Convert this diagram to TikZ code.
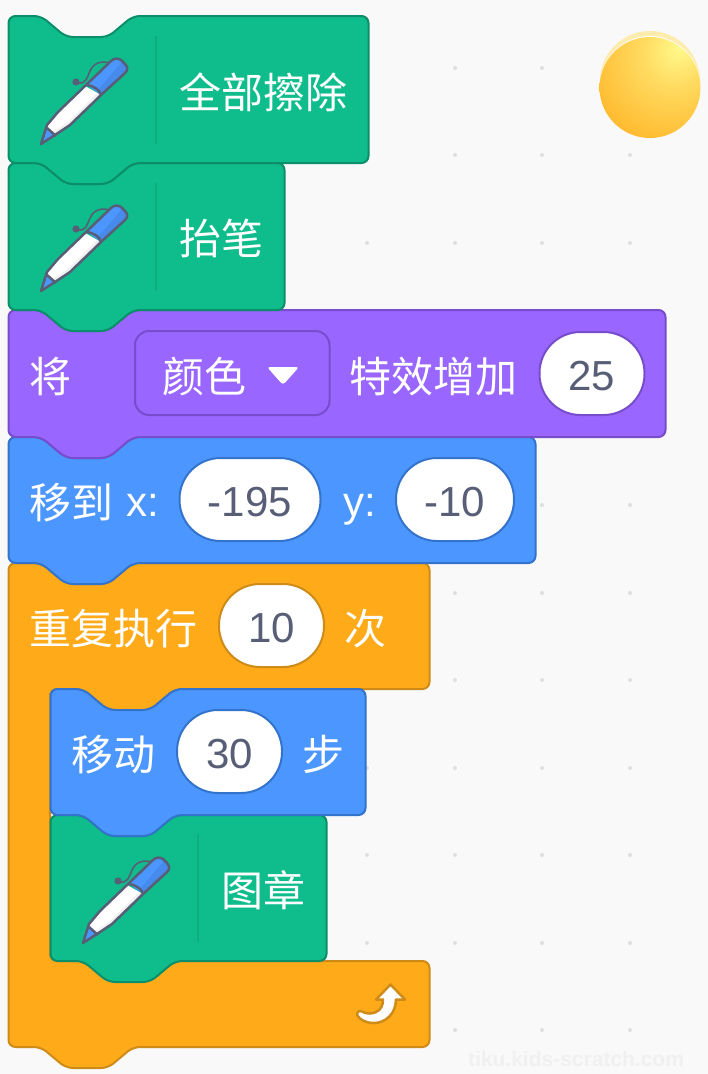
\documentclass[tikz,border=0pt]{standalone}
\usepackage{fontspec}
\setmainfont{Liberation Sans}
\newfontfamily\cjkfont{Noto Sans CJK SC}
\definecolor{mygreen}{RGB}{15,189,140}
\definecolor{mygreenline}{RGB}{11,142,105}
\definecolor{mypurple}{RGB}{153,102,255}
\definecolor{mypurpleline}{RGB}{119,77,203}
\definecolor{myblue}{RGB}{76,151,255}
\definecolor{myblueline}{RGB}{51,115,204}
\definecolor{myorange}{RGB}{255,171,25}
\definecolor{myorangeline}{RGB}{207,139,23}
\definecolor{myink}{RGB}{87,94,117}
\definecolor{mypaper}{RGB}{249,249,249}
\pgfdeclareradialshading{sunball}{\pgfpoint{15bp}{20bp}}{
	rgb(0bp)=(1,0.98,0.55);
	rgb(16bp)=(1,0.86,0.38);
	rgb(42bp)=(1,0.72,0.17);
	rgb(62bp)=(1,0.63,0.08);
	rgb(100bp)=(1,0.63,0.08)}
\tikzset{
	greenblock/.style={fill=mygreen, draw=mygreenline},
	purpleblock/.style={fill=mypurple, draw=mypurpleline},
	blueblock/.style={fill=myblue, draw=myblueline},
	orangeblock/.style={fill=myorange, draw=myorangeline},
	label/.style={text=white, inner sep=0pt, anchor=base west, font=\cjkfont\fontsize{42}{50}\selectfont},
	latin/.style={text=white, inner sep=0pt, anchor=base west, font=\fontsize{42}{50}\selectfont},
	pill/.style={fill=white, rounded corners=41pt, minimum height=83pt, inner sep=0pt, text=myink,
		text height=34pt, text depth=0pt, font=\fontsize{42}{50}\selectfont},
	divider/.style={draw=mygreen!65!mygreenline, line width=1.5pt},
}
% one stack block: style, left, top, width, height
\newcommand{\stackblock}[5]{
	\draw[#1, shift={(#2,#3)}, rounded corners=7pt]
		(0.5,0) -- (33,0) -- (58,21) -- (100,21) -- (125,0) -- (#4-0.5,0) -- (#4-0.5,#5)
		-- (125,#5) -- (100,#5+21) -- (58,#5+21) -- (33,#5) -- (0.5,#5) -- cycle;
}
% pen icon, offset from the first one
\newcommand{\penicon}[2]{
	\begin{scope}[shift={(#1,#2)}, line join=round]
		\fill[white] (41,144) -- (47,125) -- (58,112) -- (85,86) -- (101,95) -- (98,98) -- (70,125) -- (58,133) -- cycle;
		\fill[gray!12] (97,93) -- (100,95) -- (98,98) -- (70,125) -- (56,134) -- (53,132) -- (67,123) -- cycle;
		\fill[myblue] (41,144) -- (47,128) -- (56,136) -- cycle;
		\fill[myblue] (87,85) -- (111,61) .. controls (114,58) and (118,58) .. (121,60) -- (125,64)
			.. controls (128,67) and (128,70) .. (125,73) -- (101,95) -- cycle;
		\fill[myblue!92!black] (122,62) -- (125,64) .. controls (128,67) and (128,70) .. (125,73) -- (101,95) -- (97,91) -- cycle;
		\draw[myink, line width=2.5pt] (47,128) -- (56,136);
		\draw[myink, line width=2.5pt] (87,85) .. controls (94,86) and (100,90) .. (101,95);
		\draw[myink, line width=2.5pt] (41,144) -- (47,125) -- (58,112) -- (85,86) -- (111,61)
			.. controls (114,58) and (118,58) .. (121,60) -- (125,64)
			.. controls (128,67) and (128,70) .. (125,73) -- (101,95) -- (98,98)
			-- (70,125) -- (58,133) -- cycle;
		\draw[myink, line width=1.6pt] (78,83) .. controls (86,84) and (87,78) .. (90,71)
			.. controls (94,62) and (102,61) .. (110,63);
		\fill[myink] (76,82) circle (3.6);
	\end{scope}
}

\begin{document}
\begin{tikzpicture}[x=1pt, y=-1pt, line width=2pt]
	\useasboundingbox (0,0) rectangle (708,1074);

	% paper and dots
	\fill[mypaper] (0,0) rectangle (708,1074);
	\foreach \dotx in {367,455,542,630}
		\foreach \doty in {68,155,243,330,418,505,593,680,768,855,943,1030}
			\fill[gray!25] (\dotx,\doty) circle (2);
	\node[anchor=base east, inner sep=0pt, text=gray!12, font=\bfseries\fontsize{21}{25}\selectfont] (mark) at (685,1066) {tiku.kids-scratch.com};

	% sun
	\fill[yellow!55!orange!30] (650,81) circle (50);
	\fill[white] (650,86.5) circle (50.5);
	\shade[shading=sunball] (650,87.5) circle (50.5);

	% repeat block
	\draw[orangeblock, rounded corners=7pt]
		(8.5,563) -- (41,563) -- (66,584) -- (108,584) -- (133,563) -- (429.5,563) -- (429.5,689)
		-- (175,689) -- (150,710) -- (108,710) -- (83,689) -- (50,689) -- (50,961) -- (429.5,961) -- (429.5,1047)
		-- (133,1047) -- (108,1068) -- (66,1068) -- (41,1047) -- (8.5,1047) -- cycle;
	\node[label] (repeat) at (28.5,644) {重复执行};
	\node[pill, minimum width=105pt, draw=myorangeline] (times) at (271.5,625.5) {10};
	\node[label] (timesword) at (343.5,644) {次};
	\draw[draw=myorangeline, fill=white, line width=2.5pt, line join=round]
		(390.5,984.5) -- (405,999.5) -- (396,999.5) .. controls (396,1013) and (386,1023) .. (374,1023)
		.. controls (366,1023) and (360,1020) .. (357,1015) .. controls (357,1011) and (360,1010) .. (363,1012)
		.. controls (367,1014) and (372,1014) .. (376,1012) .. controls (381,1010) and (383,1005) .. (383,999.5)
		-- (376,999.5) -- cycle;

	% stamp
	\stackblock{greenblock}{50}{815}{277}{146}
	\draw[divider] (198,834) -- (198,942);
	\penicon{42}{799}
	\node[label] (stamp) at (220.5,906) {图章};

	% move
	\stackblock{blueblock}{50}{689}{316}{126}
	\node[label] (move) at (70.5,770) {移动};
	\node[pill, minimum width=105pt, draw=myblueline] (steps) at (229.5,751.5) {30};
	\node[label] (stepword) at (301.5,770) {步};

	% go to
	\stackblock{blueblock}{8}{437}{528}{126}
	\node[label] (goto) at (28.5,518) {移到};
	\node[latin] (xlabel) at (125,516) {x:};
	\node[pill, minimum width=141pt, draw=myblueline] (xvalue) at (250,499.5) {-195};
	\node[latin] (ylabel) at (342,516) {y:};
	\node[pill, minimum width=118pt, draw=myblueline] (yvalue) at (455,499.5) {-10};

	% colour effect
	\stackblock{purpleblock}{8}{310}{658}{127}
	\node[label] (effect) at (28.5,392) {将};
	\draw[draw=mypurpleline, fill=mypurple, rounded corners=14pt] (135,331) rectangle (329.5,415);
	\node[label] (colour) at (161.5,392) {颜色};
	\fill[white, rounded corners=3pt] (267,367) -- (299,367) -- (283,385) -- cycle;
	\node[label] (change) at (348.5,392) {特效增加};
	\node[pill, minimum width=105pt, draw=mypurpleline] (amount) at (592,373.5) {25};

	% pen up
	\stackblock{greenblock}{8}{163}{277}{147}
	\draw[divider] (156,183) -- (156,291);
	\penicon{0}{147}
	\node[label] (penup) at (178.5,254) {抬笔};

	% erase all
	\stackblock{greenblock}{8}{16}{361}{147}
	\draw[divider] (156,36) -- (156,144);
	\penicon{0}{0}
	\node[label] (erase) at (178.5,108) {全部擦除};

\end{tikzpicture}
\end{document}
